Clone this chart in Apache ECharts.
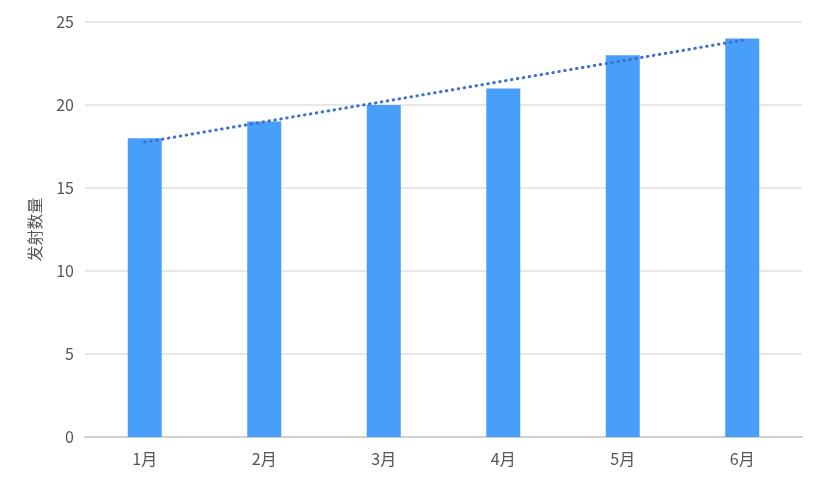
<!DOCTYPE html>
<html style="height: 100%">
<head>
    <meta charset="utf-8">
</head>
<body style="height: 100%; margin: 0">
<div id="container" style="width: 826px; height: 486px"></div>

<script src="https://cdn.jsdelivr.net/npm/echarts@6/dist/echarts.min.js"></script>
<script type="text/javascript">
    var months = ['1月', '2月', '3月', '4月', '5月', '6月'];
    var launches = [18, 19, 20, 21, 23, 24];
    // trend line
    var trend = [17.76, 18.99, 20.21, 21.44, 22.67, 23.90];

    var myChart = echarts.init(document.getElementById('container'), null, {
        renderer: 'canvas'
    });

    var textFont = '"Noto Sans CJK SC", "Microsoft YaHei", sans-serif';

    var option = {
        animation: false,
        grid: {
            left: 85,
            right: 24,
            top: 22,
            bottom: 49
        },
        xAxis: {
            type: 'category',
            data: months,
            axisTick: { show: false },
            axisLine: { lineStyle: { color: '#d0d0d0', width: 2 } },
            axisLabel: {
                color: '#555',
                fontSize: 16,
                fontFamily: textFont,
                margin: 14
            }
        },
        yAxis: {
            type: 'value',
            min: 0,
            max: 25,
            interval: 5,
            name: '发射数量',
            nameLocation: 'middle',
            nameGap: 42,
            nameTextStyle: {
                color: '#555',
                fontSize: 16,
                fontFamily: textFont
            },
            axisLabel: {
                color: '#555',
                fontSize: 16,
                fontFamily: textFont,
                margin: 11
            },
            splitLine: { lineStyle: { color: '#e0e0e0', width: 1.5 } }
        },
        series: [
            {
                type: 'bar',
                data: launches,
                barWidth: 34,
                itemStyle: { color: '#479ff9' }
            },
            {
                type: 'line',
                data: trend,
                symbol: 'none',
                z: 5,
                lineStyle: {
                    color: '#3f6fcf',
                    width: 3,
                    cap: 'round',
                    type: [0.5, 5.5]
                }
            }
        ]
    };

    myChart.setOption(option);
</script>
</body>
</html>
